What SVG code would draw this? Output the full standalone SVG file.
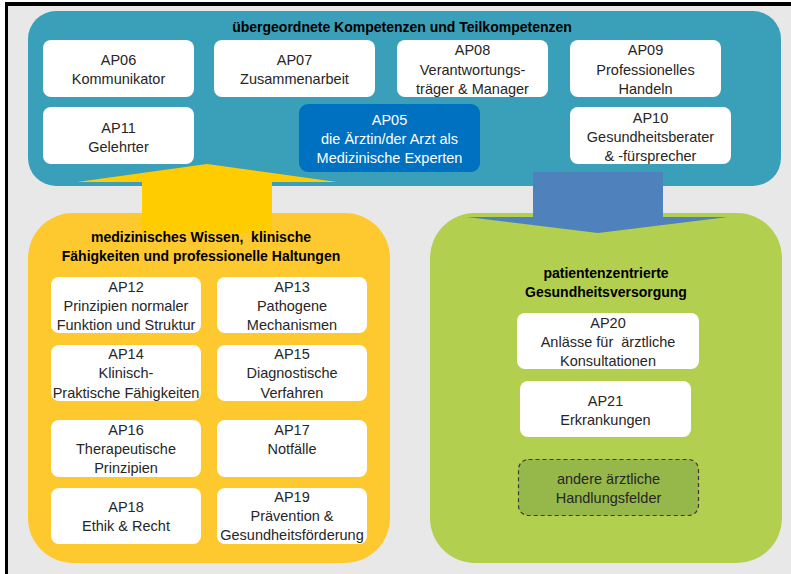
<svg xmlns="http://www.w3.org/2000/svg" width="791" height="574" viewBox="0 0 791 574">
<defs>
<style>
.t{font-family:"Liberation Sans",Arial,sans-serif;font-size:14.5px;fill:#262626;text-anchor:middle}
.h{font-family:"Liberation Sans",Arial,sans-serif;font-size:14px;font-weight:bold;fill:#000;text-anchor:middle}
.w{fill:#fff}
</style>
</defs>
<rect x="0" y="0" width="791" height="574" fill="#fff"/>
<rect x="8" y="6" width="783" height="568" fill="#e8e8e8"/>
<rect x="5" y="2" width="786" height="4" fill="#000"/>
<rect x="5" y="2" width="3" height="572" fill="#000"/>

<g id="top-group">
<rect x="28" y="11" width="753" height="175" rx="28" fill="#3a9fb9"/>
<text class="h" x="402" y="32">übergeordnete Kompetenzen und Teilkompetenzen</text>
</g>

<g id="bottom-left-group">
<rect x="28" y="213" width="362" height="350" rx="45" fill="#fdc92f"/>
</g>
<g id="bottom-right-group">
<rect x="430" y="213" width="352" height="350" rx="45" fill="#b2cf4f"/>
<text class="h" x="606" y="278">patientenzentrierte</text>
<text class="h" x="606" y="297">Gesundheitsversorgung</text>
</g>

<g id="connectors">
<polygon points="207,164 337,182 272,182 272,233 142,233 142,182 77,182" fill="#ffcc00"/>
<polygon points="533,172 663,172 663,217 728,217 598,233 467,217 533,217" fill="#4f81bd"/>
</g>

<g id="bottom-left-title">
<text class="h" x="201" y="242" xml:space="preserve">medizinisches Wissen,  klinische</text>
<text class="h" x="201" y="261">Fähigkeiten und professionelle Haltungen</text>
</g>

<g id="AP06"><rect class="w" x="43" y="40" width="151" height="57" rx="8"/>
<text class="t" x="118.5" y="65">AP06</text><text class="t" x="118.5" y="84">Kommunikator</text></g>
<g id="AP07"><rect class="w" x="214" y="40" width="161" height="57" rx="8"/>
<text class="t" x="294.5" y="65">AP07</text><text class="t" x="294.5" y="84">Zusammenarbeit</text></g>
<g id="AP08"><rect class="w" x="397" y="40" width="151" height="57" rx="8"/>
<text class="t" x="472.5" y="55">AP08</text><text class="t" x="472.5" y="75">Verantwortungs-</text><text class="t" x="472.5" y="94">träger &amp; Manager</text></g>
<g id="AP09"><rect class="w" x="570" y="40" width="151" height="57" rx="8"/>
<text class="t" x="645.5" y="55">AP09</text><text class="t" x="645.5" y="75">Professionelles</text><text class="t" x="645.5" y="94">Handeln</text></g>
<g id="AP11"><rect class="w" x="43" y="107" width="151" height="57" rx="8"/>
<text class="t" x="118.5" y="133">AP11</text><text class="t" x="118.5" y="152">Gelehrter</text></g>
<g id="AP05"><rect x="299" y="104" width="181" height="68" rx="9" fill="#0070c0"/>
<text class="t" style="fill:#fff" x="389.5" y="125">AP05</text><text class="t" style="fill:#fff" x="389.5" y="144">die Ärztin/der Arzt als</text><text class="t" style="fill:#fff" x="389.5" y="163">Medizinische Experten</text></g>
<g id="AP10"><rect class="w" x="570" y="107" width="161" height="57" rx="8"/>
<text class="t" x="650.5" y="123">AP10</text><text class="t" x="650.5" y="142">Gesundheitsberater</text><text class="t" x="650.5" y="161">&amp; -fürsprecher</text></g>

<g id="AP12"><rect class="w" x="51" y="277" width="150" height="56" rx="8"/>
<text class="t" x="126" y="292">AP12</text><text class="t" x="126" y="311">Prinzipien normaler</text><text class="t" x="126" y="330">Funktion und Struktur</text></g>
<g id="AP13"><rect class="w" x="217" y="277" width="150" height="56" rx="8"/>
<text class="t" x="292" y="292">AP13</text><text class="t" x="292" y="311">Pathogene</text><text class="t" x="292" y="330">Mechanismen</text></g>
<g id="AP14"><rect class="w" x="51" y="345" width="150" height="56" rx="8"/>
<text class="t" x="126" y="359">AP14</text><text class="t" x="126" y="378">Klinisch-</text><text class="t" x="126" y="398">Praktische Fähigkeiten</text></g>
<g id="AP15"><rect class="w" x="217" y="345" width="150" height="56" rx="8"/>
<text class="t" x="292" y="359">AP15</text><text class="t" x="292" y="378">Diagnostische</text><text class="t" x="292" y="398">Verfahren</text></g>
<g id="AP16"><rect class="w" x="51" y="420" width="150" height="57" rx="8"/>
<text class="t" x="126" y="435">AP16</text><text class="t" x="126" y="454">Therapeutische</text><text class="t" x="126" y="473">Prinzipien</text></g>
<g id="AP17"><rect class="w" x="217" y="420" width="150" height="57" rx="8"/>
<text class="t" x="292" y="435">AP17</text><text class="t" x="292" y="454">Notfälle</text></g>
<g id="AP18"><rect class="w" x="51" y="488" width="150" height="56" rx="8"/>
<text class="t" x="126" y="512">AP18</text><text class="t" x="126" y="531">Ethik &amp; Recht</text></g>
<g id="AP19"><rect class="w" x="217" y="488" width="150" height="56" rx="8"/>
<text class="t" x="292" y="502">AP19</text><text class="t" x="292" y="521">Prävention &amp;</text><text class="t" x="292" y="540">Gesundheitsförderung</text></g>

<g id="AP20"><rect class="w" x="517" y="313" width="182" height="56" rx="8"/>
<text class="t" x="608" y="328">AP20</text><text class="t" x="608" y="347" xml:space="preserve">Anlässe für  ärztliche</text><text class="t" x="608" y="366">Konsultationen</text></g>
<g id="AP21"><rect class="w" x="520" y="381" width="171" height="56" rx="8"/>
<text class="t" x="605.5" y="406">AP21</text><text class="t" x="605.5" y="425">Erkrankungen</text></g>
<g id="andere"><rect x="518.5" y="459.5" width="180" height="56" rx="10" fill="#96b84b" stroke="#3a3a3a" stroke-width="1.2" stroke-dasharray="4,3"/>
<text class="t" x="608.5" y="484">andere ärztliche</text><text class="t" x="608.5" y="503">Handlungsfelder</text></g>
</svg>
